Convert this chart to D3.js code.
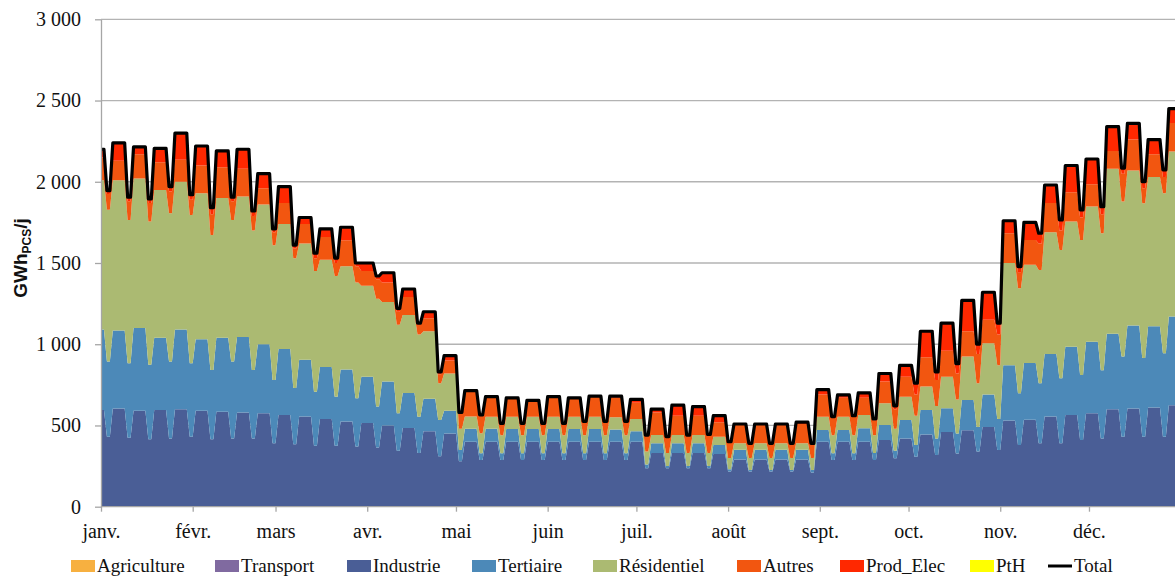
<!DOCTYPE html>
<html>
<meta charset="utf-8">
<head>
<script src="https://cdnjs.cloudflare.com/ajax/libs/d3/7.8.5/d3.min.js"></script>
<style>
  body { margin: 0; background: #fff; }
  svg { display: block; }
</style>
</head>
<body>
<script>
const largeur = 1175, hauteur = 578;

// axes
const mois = ["janv.", "févr.", "mars", "avr.", "mai", "juin", "juil.", "août", "sept.", "oct.", "nov.", "déc."];
const debutMois = [0, 31, 59, 90, 120, 151, 181, 212, 243, 273, 304, 334];
const nbJours = 365;
const yTicks = [0, 500, 1000, 1500, 2000, 2500, 3000];

const series = ["Agriculture", "Transport", "Industrie", "Tertiaire", "Résidentiel", "Autres", "Prod_Elec", "PtH"];
const couleurs = ["#f7b040", "#806aa0", "#4a5e96", "#4c89b8", "#abba72", "#f25610", "#ff2800", "#ffff00"];

// valeurs lues par semaine (semaine 0 = 1er janv. jeudi), jours ouvrés / week-end, GWh PCS/j
const agriculture = [0,0,0,0,0,0,0,0,0,0, 0,0,0,0,0,0,0,0,0,0, 0,0,0,0,0,0,0,0,0,0, 0,0,0,0,0,0,0,0,0,0, 0,0,0,0,0,0,0,0,0,0, 0,0,0];
const transport   = [0,0,0,0,0,0,0,0,0,0, 0,0,0,0,0,0,0,0,0,0, 0,0,0,0,0,0,0,0,0,0, 0,0,0,0,0,0,0,0,0,0, 0,0,0,0,0,0,0,0,0,0, 0,0,0];
const pth         = [0,0,0,0,0,0,0,0,0,0, 0,0,0,0,0,0,0,0,0,0, 0,0,0,0,0,0,0,0,0,0, 0,0,0,0,0,0,0,0,0,0, 0,0,0,0,0,0,0,0,0,0, 0,0,0];

const industrieSem = [595,605,590,595,600,590,585,580,575,565, 555,540,525,515,500,485,465,450,400,400,
  400,400,400,400,400,400,400,330,330,330, 325,290,290,290,290,400,400,400,410,420, 445,460,470,490,530,535,555,565,575,600, 605,610,625];
const industrieWE = [430,425,415,420,430,415,420,420,390,385, 375,375,370,365,345,330,310,280,288,288,
  288,288,288,288,288,288,236,236,236,236, 216,216,216,216,210,288,288,288,298,308, 318,328,339,349,380,390,390,410,420,431, 431,431,440];

const tertiaireSem = [495,480,510,445,490,440,455,465,425,405, 350,320,320,285,270,215,200,140,80,80,
  78,78,78,78,78,75,65,60,60,60, 55,60,60,60,60,72,72,83,93,114, 150,146,187,200,340,350,385,420,440,465, 510,500,545];
const tertiaireWE = [463,458,458,473,453,427,473,422,390,345, 333,302,297,251,230,224,224,69,41,41,
  41,41,41,41,41,41,24,14,14,14, 14,10,10,10,16,41,41,42,47,72, 102,122,151,191,318,370,400,400,420,494, 484,514,510];

const residentielSem = [920,925,920,910,910,900,860,865,860,770, 715,660,635,560,490,480,415,230,75,74,
  76,76,76,76,76,75,75,51,51,51, 50,40,40,40,40,82,82,82,134,143, 145,194,267,316,630,605,750,770,832,1015, 955,920,1016];
const residentielWE = [934,882,882,913,913,831,872,858,830,800, 742,743,713,664,545,506,226,131,123,111,
  111,111,111,111,111,111,80,80,80,80, 70,74,74,74,74,111,111,110,135,180, 200,210,270,330,647,697,790,832,843,953, 953,985,1000];

const autresSem = [140,120,150,170,135,170,190,170,100,130, 120,140,160,90,120,110,80,80,155,123,
  116,101,123,116,123,120,100,139,119,119, 90,119,119,119,119,136,116,105,133,123, 180,160,156,144,183,152,180,180,138,110, 190,140,175];
const autresWE = [98,115,115,134,94,127,115,90,80,60, 80,80,100,120,80,60,55,90,108,73,
  73,73,73,85,85,85,101,101,110,115, 100,90,90,90,90,110,115,90,120,130, 160,160,180,190,95,163,120,138,117,172, 92,100,100];

const prodElecSem = [50,110,45,85,165,120,100,120,90,100, 40,50,80,50,60,50,40,30,5,0,
  0,0,0,0,3,10,20,20,65,56, 40,0,0,0,11,30,18,30,50,70, 160,170,190,170,77,108,110,165,155,150, 100,90,89];
const prodElecWE = [20,25,25,30,30,40,25,30,20,20, 30,30,20,20,20,10,15,10,5,0,
  0,0,0,0,0,0,0,0,0,0, 0,0,0,0,0,5,5,10,20,70, 50,60,60,70,38,63,65,47,47,34, 41,43,30];

const parSerie = {
  "Agriculture": [agriculture, agriculture],
  "Transport": [transport, transport],
  "Industrie": [industrieSem, industrieWE],
  "Tertiaire": [tertiaireSem, tertiaireWE],
  "Résidentiel": [residentielSem, residentielWE],
  "Autres": [autresSem, autresWE],
  "Prod_Elec": [prodElecSem, prodElecWE],
  "PtH": [pth, pth]
};

// tableau journalier : samedi = j%7==2, dimanche = j%7==3
const jours = d3.range(nbJours).map(j => {
  const k = Math.floor((j + 3) / 7);
  const we = (j % 7 === 2 || j % 7 === 3);
  const ligne = {jour: j};
  series.forEach(s => { ligne[s] = we ? parSerie[s][1][k] : parSerie[s][0][k]; });
  ligne.Total = d3.sum(series, s => ligne[s]);
  return ligne;
});

const svg = d3.select("body").append("svg")
  .attr("width", largeur)
  .attr("height", hauteur);

const x = d3.scaleLinear().domain([0, nbJours - 1]).range([101, 101 + 364 * 2.958]);
const y = d3.scaleLinear().domain([0, 3000]).range([506.7, 19.3]);

const police = "'Liberation Serif', 'Times New Roman', serif";

// grille
svg.append("g").selectAll("line")
  .data(yTicks.filter(v => v > 0))
  .enter().append("line")
  .attr("x1", 101).attr("x2", largeur)
  .attr("y1", d => y(d)).attr("y2", d => y(d))
  .attr("stroke", "#b3b3b3")
  .attr("stroke-width", 1.3);

// aires empilées
const pile = d3.stack().keys(series)(jours);
const aire = d3.area()
  .x(d => x(d.data.jour))
  .y0(d => y(d[0]))
  .y1(d => y(d[1]));

svg.append("g").selectAll("path")
  .data(pile)
  .enter().append("path")
  .attr("d", aire)
  .attr("fill", (d, i) => couleurs[i]);

// total
svg.append("path")
  .datum(jours)
  .attr("fill", "none")
  .attr("stroke", "#000")
  .attr("stroke-width", 3.2)
  .attr("stroke-linejoin", "round")
  .attr("d", d3.line().x(d => x(d.jour)).y(d => y(d.Total)));

// axes
const fr = d3.formatLocale({decimal: ",", thousands: " ", grouping: [3], currency: ["", " €"]});
const yAxe = d3.axisLeft(y).tickValues(yTicks).tickFormat(fr.format(",")).tickSize(6).tickSizeOuter(0).tickPadding(14);
const gy = svg.append("g").attr("transform", "translate(101,0)").call(yAxe);

const xAxe = d3.axisBottom(x).tickValues(debutMois).tickFormat((d, i) => mois[i]).tickSize(5).tickSizeOuter(0).tickPadding(12);
const gx = svg.append("g").attr("transform", "translate(0,506.7)").call(xAxe);

[gx, gy].forEach(g => {
  g.select(".domain").attr("stroke", "#a6a6a6").attr("stroke-width", 1.3);
  g.selectAll(".tick line").attr("stroke", "#a6a6a6").attr("stroke-width", 1.3);
  g.selectAll(".tick text").attr("font-family", police).attr("font-size", 20).attr("fill", "#111");
});
gx.select(".domain").attr("d", `M101,0H${largeur}`);

// titre axe Y
const titre = svg.append("text")
  .attr("transform", "translate(27,258) rotate(-90)")
  .attr("text-anchor", "middle")
  .attr("font-family", "'Liberation Sans', Arial, sans-serif")
  .attr("font-weight", "bold")
  .attr("font-size", 19)
  .attr("fill", "#111");
titre.append("tspan").text("GWh");
titre.append("tspan").attr("font-size", 12).attr("dy", 4).text("PCS");
titre.append("tspan").attr("dy", -4).text("/j");

// légende
const legendeX = [71, 215, 347, 472, 593, 737, 840, 970, 1048];
const legende = svg.append("g");
series.concat(["Total"]).forEach((s, i) => {
  const g = legende.append("g").attr("transform", `translate(${legendeX[i]},0)`);
  if (s === "Total") {
    g.append("line").attr("x1", 0).attr("x2", 24).attr("y1", 566).attr("y2", 566)
      .attr("stroke", "#000").attr("stroke-width", 3);
  } else {
    g.append("rect").attr("x", 0).attr("y", 560).attr("width", 24).attr("height", 12)
      .attr("fill", couleurs[i]);
  }
  g.append("text").attr("x", 26).attr("y", 572)
    .attr("font-family", police).attr("font-size", 19).attr("fill", "#111")
    .text(s);
});
</script>
</body>
</html>
